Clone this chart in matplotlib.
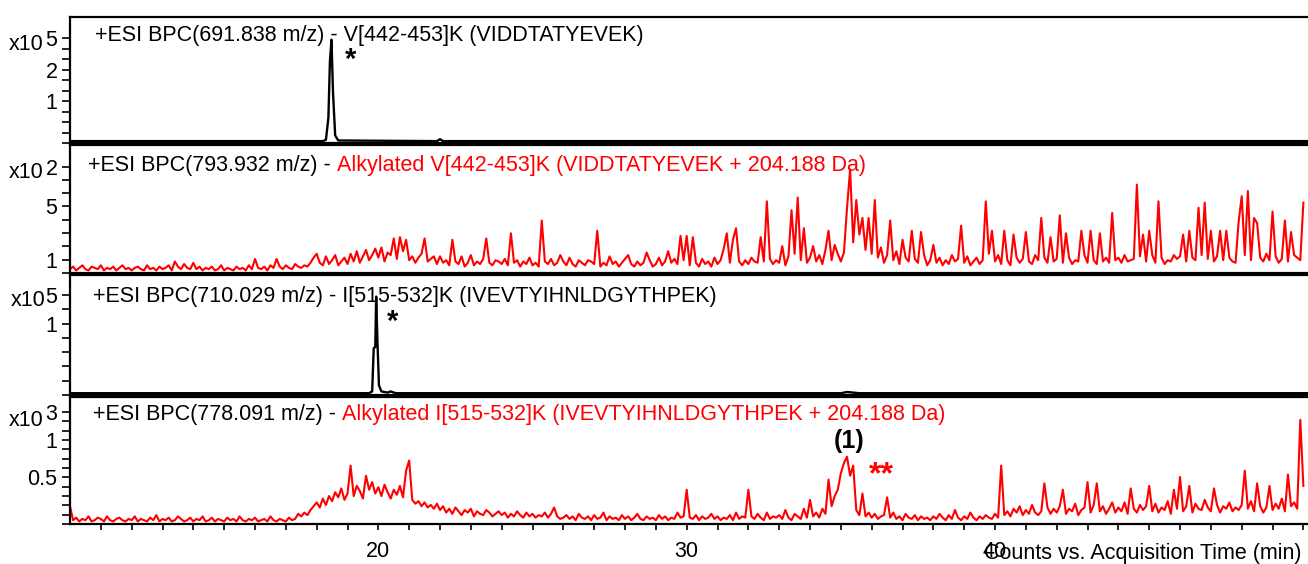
import matplotlib.pyplot as plt
import numpy as np

plt.rcParams['font.family'] = ['Liberation Sans', 'DejaVu Sans']

# ---- data (intensity as % of panel height) ----
# native peptides, sparse points of the BPC trace
v_rt = [10.0, 18.2, 18.3, 18.38, 18.43, 18.48, 18.53, 18.6, 18.7, 21.9, 22.0, 22.1, 50.2]
v_int = [1.5, 1.5, 2.5, 20, 65, 82, 40, 6, 2, 1.5, 3, 1.5, 1.5]

i_rt = [10.0, 19.7, 19.8, 19.85, 19.9, 19.93, 19.97, 20.02, 20.1, 20.3, 20.4, 20.5, 20.6,
        35.0, 35.2, 35.4, 35.6, 50.2]
i_int = [1.5, 1.5, 3, 39, 40, 82, 45, 8, 3, 2, 3, 2, 1.5, 1.5, 2.5, 2, 1.5, 1.5]

# alkylated peptides, one point every 0.1 min from 10 to 50 min
alk_rt = np.linspace(10.0, 50.0, 401)
alk_v_int = [
    3, 5, 2, 4, 6, 3, 2, 5, 4, 3, 6, 2, 4, 3, 5, 2, 4, 6, 3, 4,
    2, 4, 5, 3, 2, 6, 3, 4, 2, 5, 3, 4, 6, 2, 9, 5, 3, 7, 4, 3,
    8, 3, 5, 2, 4, 3, 5, 2, 3, 6, 2, 4, 3, 2, 5, 3, 4, 2, 6, 3,
    11, 4, 3, 5, 2, 6, 4, 11, 5, 3, 6, 4, 3, 7, 5, 4, 6, 5, 8, 12,
    15, 8, 6, 13, 7, 10, 14, 6, 9, 12, 7, 15, 9, 17, 8, 13, 18, 10, 14, 19,
    12, 20, 9, 16, 14, 27, 11, 28, 17, 26, 10, 13, 8, 12, 15, 27, 9, 11, 13, 7,
    13, 8, 10, 6, 26, 9, 7, 13, 5, 8, 14, 6, 9, 7, 11, 27, 8, 6, 10, 9,
    7, 11, 6, 31, 8, 10, 5, 9, 7, 12, 6, 8, 5, 41, 9, 7, 11, 6, 8, 14,
    9, 6, 12, 7, 5, 10, 8, 6, 10, 9, 7, 33, 5, 8, 6, 13, 7, 9, 5, 8,
    11, 14, 7, 5, 9, 6, 8, 16, 10, 5, 7, 12, 6, 9, 17, 8, 11, 7, 29, 10,
    29, 6, 28, 8, 5, 11, 7, 9, 5, 12, 7, 10, 19, 31, 8, 26, 35, 9, 6, 10,
    7, 12, 9, 8, 28, 9, 56, 11, 7, 10, 8, 21, 6, 13, 49, 15, 59, 10, 35, 8,
    12, 21, 9, 14, 7, 18, 33, 10, 22, 15, 9, 16, 51, 81, 24, 57, 30, 43, 18, 43,
    15, 57, 12, 20, 8, 14, 41, 10, 17, 7, 26, 12, 9, 33, 11, 8, 32, 14, 6, 10,
    22, 8, 12, 6, 10, 7, 14, 9, 11, 37, 8, 13, 6, 9, 12, 7, 10, 56, 15, 33,
    9, 14, 7, 33, 10, 6, 30, 12, 8, 11, 32, 9, 7, 14, 10, 43, 12, 8, 28, 9,
    11, 45, 8, 31, 12, 7, 10, 9, 33, 14, 8, 33, 10, 7, 31, 9, 12, 8, 47, 10,
    12, 8, 14, 9, 10, 11, 69, 13, 30, 9, 33, 14, 8, 56, 12, 7, 10, 9, 14, 11,
    13, 30, 9, 33, 12, 10, 51, 14, 55, 11, 33, 9, 13, 33, 10, 33, 12, 9, 8, 40,
    60, 14, 64, 10, 43, 39, 12, 9, 15, 10, 48, 13, 8, 11, 41, 9, 32, 14, 12, 10,
    55]
alk_i_int = [
    14, 3, 5, 2, 4, 3, 6, 2, 3, 5, 4, 2, 6, 3, 2, 4, 5, 3, 2, 4,
    3, 6, 2, 4, 3, 2, 5, 3, 7, 2, 4, 3, 5, 2, 3, 6, 4, 2, 3, 5,
    2, 4, 3, 6, 2, 3, 5, 2, 4, 3, 2, 5, 3, 4, 2, 6, 3, 2, 4, 3,
    5, 2, 3, 4, 2, 6, 3, 2, 4, 3, 2, 5, 3, 4, 8, 6, 9, 7, 11, 14,
    17, 13, 20, 15, 22, 18, 25, 21, 28, 19, 24, 46, 22, 30, 26, 20, 38, 27, 33, 24,
    29, 22, 31, 25, 20, 27, 23, 30, 21, 42, 50, 19, 16, 18, 14, 17, 13, 15, 12, 16,
    11, 14, 9, 12, 8, 13, 10, 7, 11, 9, 12, 6, 10, 8, 7, 11, 9, 6, 8, 10,
    7, 9, 5, 8, 6, 10, 7, 5, 9, 6, 8, 5, 7, 6, 9, 5, 8, 13, 6, 4,
    5, 7, 4, 6, 3, 8, 5, 4, 6, 3, 7, 4, 5, 9, 3, 6, 4, 5, 3, 7,
    4, 6, 3, 5, 8, 4, 3, 6, 4, 5, 3, 7, 4, 6, 3, 5, 4, 9, 5, 6,
    27, 5, 4, 7, 3, 6, 4, 5, 8, 4, 6, 3, 5, 4, 7, 3, 9, 4, 6, 5,
    27, 6, 4, 8, 5, 3, 9, 4, 6, 5, 7, 4, 11, 5, 3, 8, 6, 4, 12, 5,
    19, 6, 9, 5, 12, 8, 35, 14, 22, 27, 40, 48, 53, 38, 46, 11, 7, 24, 6, 9,
    5, 8, 4, 6, 7, 21, 5, 9, 4, 6, 3, 8, 5, 4, 7, 3, 6, 4, 5, 3,
    6, 4, 8, 5, 3, 7, 4, 11, 5, 3, 6, 4, 9, 5, 3, 6, 4, 7, 5, 4,
    8, 5, 46, 7, 10, 6, 12, 9, 14, 7, 11, 8, 15, 9, 7, 10, 32, 13, 8, 12,
    9, 14, 27, 8, 12, 10, 16, 7, 11, 13, 33, 9, 15, 32, 10, 14, 8, 12, 17, 9,
    13, 10, 17, 8, 28, 12, 9, 15, 11, 14, 30, 10, 16, 9, 13, 11, 18, 8, 27, 12,
    37, 10, 14, 30, 9, 16, 12, 11, 19, 13, 10, 28, 15, 9, 14, 12, 17, 10, 13, 11,
    15, 42, 12, 18, 10, 32, 14, 9, 13, 30, 11, 16, 12, 20, 10, 39, 14, 17, 12, 82,
    30]

title_black = ['+ESI BPC(691.838 m/z) - V[442-453]K (VIDDTATYEVEK)',
               '+ESI BPC(793.932 m/z) - ',
               '+ESI BPC(710.029 m/z) - I[515-532]K (IVEVTYIHNLDGYTHPEK)',
               '+ESI BPC(778.091 m/z) - ']
title_red = [None,
             'Alkylated V[442-453]K (VIDDTATYEVEK + 204.188 Da)',
             None,
             'Alkylated I[515-532]K (IVEVTYIHNLDGYTHPEK + 204.188 Da)']

# y ticks: step (% of panel), count, labels by tick index
tick_step = [8.33, 10.4, 11.9, 7.35]
tick_count = [11, 9, 8, 13]
tick_text = [{10: '5', 7: '2', 4: '1'},
             {8: '2', 5: '5', 1: '1'},
             {7: '5', 5: '1'},
             {12: '3', 9: '1', 5: '0.5'}]

x_major = [20, 30, 40]

# ---- layout (pixels of the 1308x564 picture) ----
W, H = 1308, 564
panel_px = [(17, 143), (145, 273), (275, 395), (397, 524)]
left_px = 70
title_pos = [(0.0202, 0.857), (0.0145, 0.836), (0.0186, 0.825), (0.0186, 0.86)]
x10_pos = [(9, 45), (9, 172), (11, 300), (9, 421)]
fs = 15.5

fig = plt.figure(figsize=(W / 100, H / 100), dpi=100)

axes = []
for top, bot in panel_px:
    ax = fig.add_axes([left_px / W, 1 - bot / H, 1 - left_px / W, (bot - top) / H])
    axes.append(ax)

traces = [(v_rt, v_int, 'black'), (alk_rt, alk_v_int, 'red'),
          (i_rt, i_int, 'black'), (alk_rt, alk_i_int, 'red')]

for k, ax in enumerate(axes):
    x, y, c = traces[k]
    ax.plot(x, y, color=c, lw=1.5 if c == 'red' else 1.7)
    ax.set_xlim(10.0, 50.15)
    ax.set_ylim(0, 100)

    # spines
    for s in ['left', 'bottom', 'top']:
        ax.spines[s].set_linewidth(1.6)
    ax.spines['right'].set_visible(False)

    # y ticks
    pos = [tick_step[k] * i for i in range(tick_count[k])]
    ax.set_yticks(pos)
    ax.set_yticklabels([tick_text[k].get(i, '') for i in range(tick_count[k])])
    ax.tick_params(axis='y', direction='out', length=6, width=1.2, pad=3, labelsize=fs)

    # x ticks only on the bottom panel
    if k < 3:
        ax.set_xticks([])
    else:
        ax.set_xticks(x_major)
        ax.set_xticks(np.arange(11, 51), minor=True)
        ax.tick_params(axis='x', which='both', direction='out', length=4, width=1.2,
                       pad=8, labelsize=fs)

    # title
    tx, ty = title_pos[k]
    t = ax.text(tx, ty, title_black[k], transform=ax.transAxes, fontsize=fs,
                ha='left', va='center')
    if title_red[k]:
        ax.annotate(title_red[k], xy=(1, 0.5), xycoords=t, fontsize=fs,
                    ha='left', va='center', color='red')

    # exponent prefix
    fig.text(x10_pos[k][0] / W, 1 - x10_pos[k][1] / H, 'x10', fontsize=fs,
             ha='left', va='center')

# peak annotations
axes[0].text(19.1, 66, '*', fontsize=21, fontweight='bold', ha='center', va='center')
axes[2].text(20.47, 61, '*', fontsize=21, fontweight='bold', ha='center', va='center')
axes[3].text(35.28, 65, '(1)', fontsize=18, fontweight='bold', ha='center', va='center')
axes[3].text(36.3, 38, '**', fontsize=23, fontweight='bold', ha='center', va='center',
             color='red')

fig.text(1301 / W, 1 - 553 / H, 'Counts vs. Acquisition Time (min)', fontsize=fs,
         ha='right', va='center')

fig.savefig('out.png', dpi=100)
